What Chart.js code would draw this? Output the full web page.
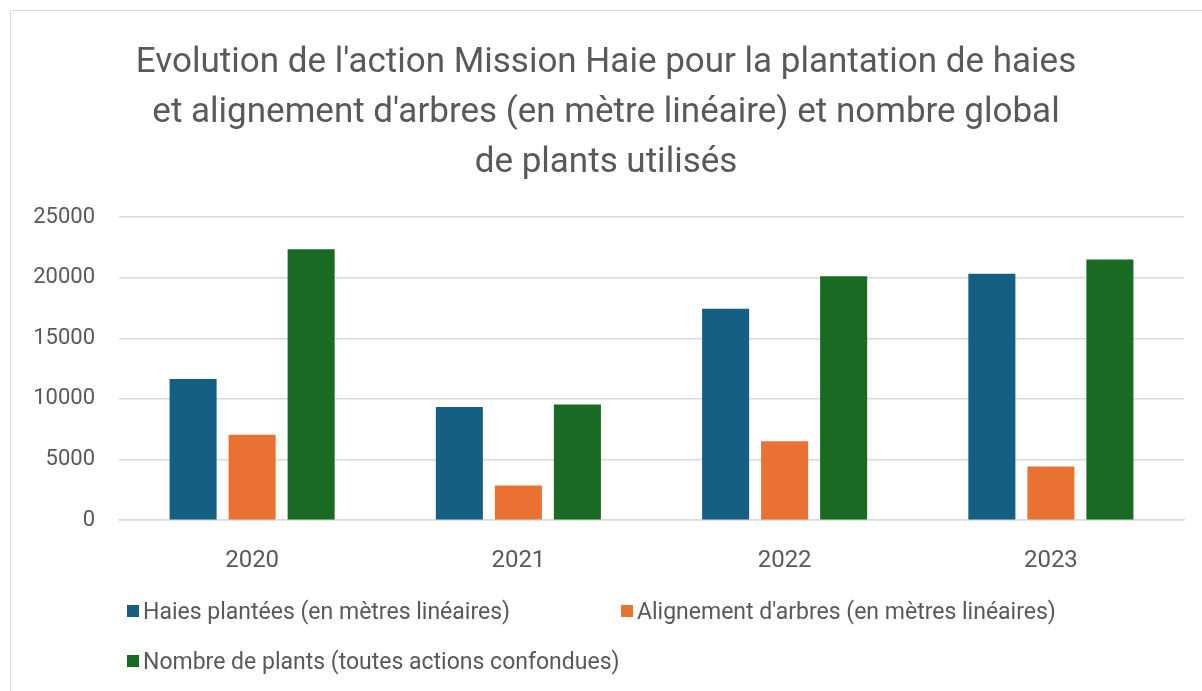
<!DOCTYPE html>
<html lang="fr">
<head>
<meta charset="utf-8">
<title>Mission Haie</title>
<script src="https://cdn.jsdelivr.net/npm/chart.js@4.4.1/dist/chart.umd.min.js"></script>
<style>
    body { margin: 0; background: #fff; font-family: Roboto, sans-serif; }
    #frame {
        position: absolute; left: 10px; top: 10px;
        width: 1240px; height: 720px;
        border: 1px solid #d9d9d9;
    }
    #chartBox { position: absolute; left: 0; top: 0; width: 1202px; height: 680px; }
    #legend {
        position: absolute; left: 116px; top: 588px; width: 1000px;
        display: grid; grid-template-columns: 494px 500px; row-gap: 26px;
        font-size: 23px; color: #595959;
    }
    .item { display: flex; align-items: center; height: 24px; white-space: nowrap; }
    .swatch { width: 12px; height: 12px; margin-right: 4px; }
</style>
</head>
<body>
<div id="frame">
    <div id="chartBox"><canvas id="barChart"></canvas></div>
    <div id="legend"></div>
</div>
<script>
const years = ['2020', '2021', '2022', '2023'];
const haies = [11650, 9330, 17440, 20340];
const alignement = [7040, 2870, 6510, 4420];
const plants = [22350, 9550, 20120, 21500];

const titleLines = [
    "Evolution de l'action Mission Haie pour la plantation de haies",
    "et alignement d'arbres (en mètre linéaire) et nombre global",
    "de plants utilisés"
];

const textColor = '#595959';
const gridColor = '#d9d9d9';

const ctxBar = document.getElementById('barChart').getContext('2d');

const barChart = new Chart(ctxBar, {
    type: 'bar',
    data: {
        labels: years,
        datasets: [{
            label: 'Haies plantées (en mètres linéaires)',
            data: haies,
            backgroundColor: '#156082',
        },
            {
                label: "Alignement d'arbres (en mètres linéaires)",
                data: alignement,
                backgroundColor: '#e97132',
            },
            {
                label: 'Nombre de plants (toutes actions confondues)',
                data: plants,
                backgroundColor: '#196b24',
            }]
    },
    options: {
        responsive: true,
        maintainAspectRatio: false,
        animation: false,
        categoryPercentage: 0.665,
        barPercentage: 0.797,
        layout: {
            padding: {left: 17, right: 29, top: 0, bottom: 90}
        },
        plugins: {
            legend: {display: false},
            tooltip: {enabled: false},
            title: {
                display: true,
                text: titleLines,
                color: textColor,
                font: {family: 'Roboto', size: 35, weight: 'normal', lineHeight: 1.43},
                padding: {top: 27, bottom: 29}
            }
        },
        scales: {
            x: {
                grid: {display: false, drawTicks: false},
                border: {display: true, color: gridColor, width: 1.5},
                ticks: {color: textColor, font: {family: 'Roboto', size: 24}, padding: 26}
            },
            y: {
                min: 0,
                max: 25000,
                grid: {color: gridColor, lineWidth: 1.5, drawTicks: false},
                border: {display: false},
                afterFit: function (scale) {
                    scale.width = 91;
                },
                ticks: {
                    stepSize: 5000,
                    color: textColor,
                    font: {family: 'Roboto', size: 22},
                    padding: 24,
                    callback: function (value) {
                        return String(value);
                    }
                }
            }
        }
    }
});

const legendBox = document.getElementById('legend');
barChart.data.datasets.forEach(function (ds) {
    const item = document.createElement('div');
    item.className = 'item';
    const swatch = document.createElement('span');
    swatch.className = 'swatch';
    swatch.style.background = ds.backgroundColor;
    const label = document.createElement('span');
    label.textContent = ds.label;
    item.appendChild(swatch);
    item.appendChild(label);
    legendBox.appendChild(item);
});
</script>
</body>
</html>
